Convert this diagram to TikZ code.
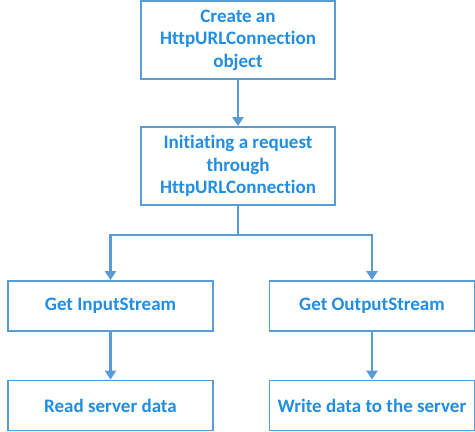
\documentclass[tikz,border=0pt]{standalone}
\usepackage{fontspec}
\setmainfont{Carlito}[Ligatures={NoCommon,NoRequired,NoContextual}]
\usepackage{xcolor}
\usetikzlibrary{arrows.meta}
\usetikzlibrary{positioning}
\definecolor{boxline}{RGB}{91,155,213}
\definecolor{boxtext}{RGB}{33,142,226}

\begin{document}
\begin{tikzpicture}
        [x=1pt,y=-1pt,
        step_box/.style={rectangle,draw=boxline,line width=1.8pt,fill=white,text=boxtext,font=\bfseries\fontsize{19}{22.5}\selectfont,align=center,inner sep=0pt},
        tall/.style={step_box,minimum width=194pt,minimum height=78pt},
        wide/.style={step_box,minimum width=205pt,minimum height=50pt},
        to/.style={-{Triangle[length=9pt,width=11pt]},draw=boxline,line width=2.8pt},
        link/.style={-,draw=boxline,line width=2.8pt}]

\useasboundingbox (0,0) rectangle (475,432);

% boxes
\node[tall] at (238,40) (create) {Create an\\HttpURLConnection\\object};

\node[tall] at (238,166) (request) {Initiating a request\\through\\HttpURLConnection};

\node[wide] at (110.5,306) (input) {Get InputStream};

\node[wide] at (372,306) (output) {Get OutputStream};

\node[wide] at (110.5,405.5) (read) {Read server data};

\node[wide] at (372,405.5) (write) {Write data to the server};

\coordinate (split) at (238,235);

%arrows
\draw[to] (create) -- (request);
\draw[link] (request) -- (split);
\draw[to] (split) -| (input);
\draw[to] (split) -| (output);
\draw[to] (input) -- (read);
\draw[to] (output) -- (write);

\end{tikzpicture}
\end{document}
